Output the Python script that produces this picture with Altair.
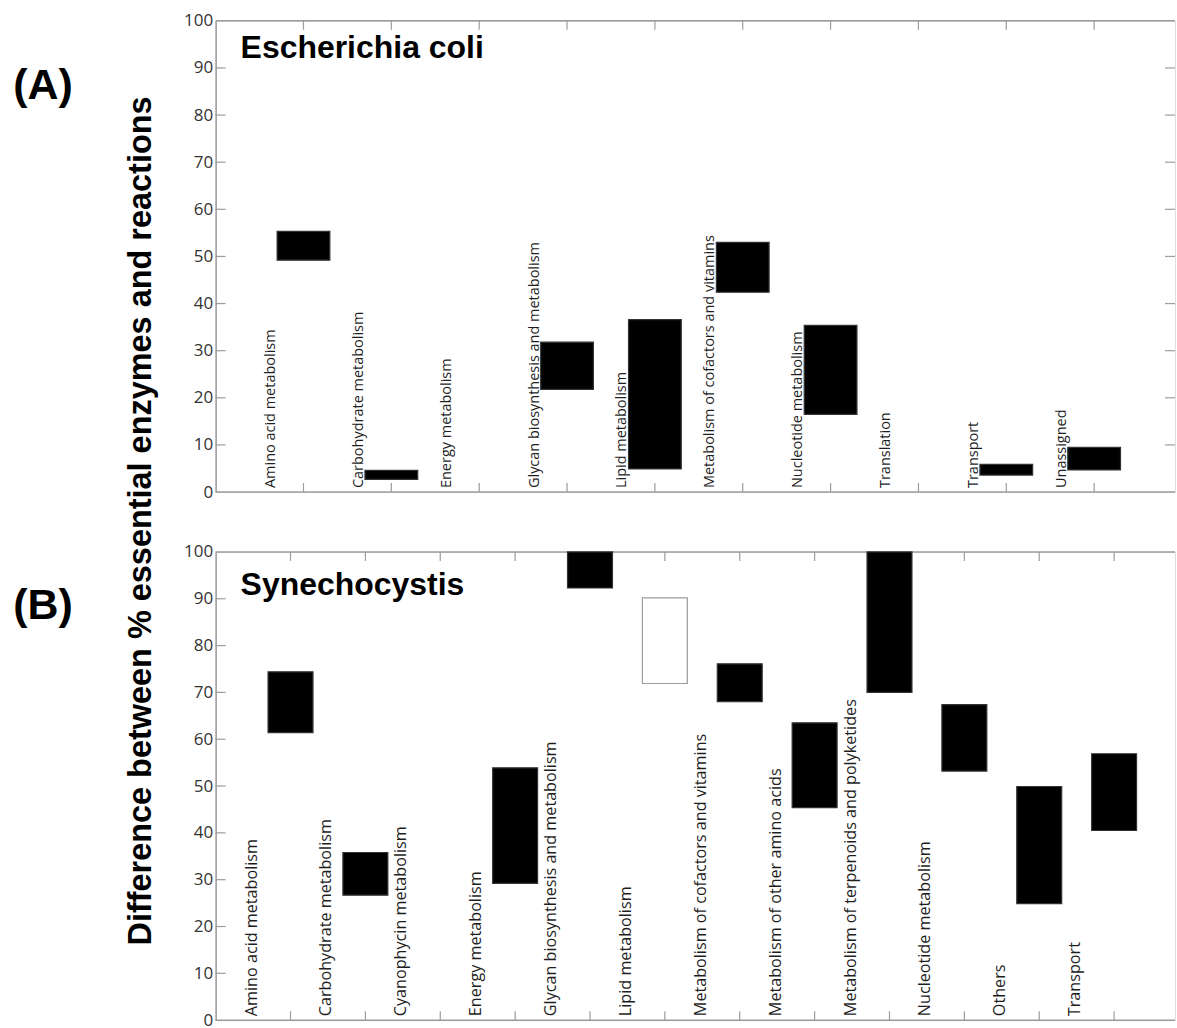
import altair as alt
import pandas as pd

# ---------------- data ----------------
ecoli_categories = [
    "Amino acid metabolism", "Carbohydrate metabolism", "Energy metabolism",
    "Glycan biosynthesis and metabolism", "Lipid metabolism",
    "Metabolism of cofactors and vitamins", "Nucleotide metabolism",
    "Translation", "Transport", "Unassigned",
]
ecoli_low = [49.2, 2.7, None, 21.8, 4.9, 42.4, 16.5, None, 3.6, 4.7]
ecoli_high = [55.3, 4.6, None, 31.8, 36.6, 53.0, 35.4, None, 5.9, 9.5]
ecoli_open = [False] * 10

syn_categories = [
    "Amino acid metabolism", "Carbohydrate metabolism", "Cyanophycin metabolism",
    "Energy metabolism", "Glycan biosynthesis and metabolism", "Lipid metabolism",
    "Metabolism of cofactors and vitamins", "Metabolism of other amino acids",
    "Metabolism of terpenoids and polyketides", "Nucleotide metabolism",
    "Others", "Transport",
]
syn_low = [61.4, 26.7, None, 29.2, 92.3, 71.9, 68.0, 45.4, 70.0, 53.2, 24.9, 40.5]
syn_high = [74.4, 35.8, None, 53.9, 100.0, 90.2, 76.1, 63.5, 100.0, 67.4, 49.9, 56.9]
syn_open = [False, False, False, False, False, True, False, False, False, False, False, False]

y_ticks = [0, 10, 20, 30, 40, 50, 60, 70, 80, 90, 100]
y_title = "Difference between % essential enzymes and reactions"

GRAY = "#9c9c9c"
W = 961


def panel(cats, low, high, is_open, height, xmax, label_shift, label_size,
          title, title_y, letter, letter_y, with_ytitle, right_ticks):
    df = pd.DataFrame({
        "cat": cats, "low": low, "high": high,
        "pos": list(range(1, len(cats) + 1)),
        "fill": ["white" if o else "black" for o in is_open],
        "edge": [GRAY if o else "#333333" for o in is_open],
    })
    xs = alt.Scale(domain=[0, xmax], nice=False, zero=False)
    ys = alt.Scale(domain=[0, 100], nice=False, zero=False)
    yaxis = alt.Axis(values=y_ticks, title=None, ticks=False, grid=False,
                     domain=True, domainColor=GRAY, domainWidth=1.5,
                     labelFont="Open Sans", labelFontSize=17, labelColor="#333333",
                     labelPadding=3)
    tick_df = pd.DataFrame({"v": y_ticks[1:-1]})
    xt_df = pd.DataFrame({"p": list(range(1, len(cats) + 1))})
    one = pd.DataFrame({"t": [title]})

    layers = []
    # left y ticks (inward) carrying the axis
    layers.append(alt.Chart(tick_df).mark_rule(color=GRAY, strokeWidth=1.2).encode(
        x=alt.value(0), x2=alt.value(10),
        y=alt.Y("v:Q", scale=ys, axis=yaxis)))
    if right_ticks:
        layers.append(alt.Chart(tick_df).mark_rule(color=GRAY, strokeWidth=1.2).encode(
            x=alt.value(W), x2=alt.value(W - 10),
            y=alt.Y("v:Q", scale=ys, axis=yaxis)))
    # top / bottom frame
    layers.append(alt.Chart(one).mark_rule(color=GRAY, strokeWidth=1.5).encode(
        x=alt.value(0), x2=alt.value(W), y=alt.value(0)))
    layers.append(alt.Chart(one).mark_rule(color=GRAY, strokeWidth=1.5).encode(
        x=alt.value(0), x2=alt.value(W), y=alt.value(height)))
    # x ticks top & bottom (inward)
    layers.append(alt.Chart(xt_df).mark_rule(color=GRAY, strokeWidth=1.2).encode(
        x=alt.X("p:Q", scale=xs, axis=None), y=alt.value(0), y2=alt.value(9)))
    layers.append(alt.Chart(xt_df).mark_rule(color=GRAY, strokeWidth=1.2).encode(
        x=alt.X("p:Q", scale=xs, axis=None), y=alt.value(height), y2=alt.value(height - 9)))
    # floating bars
    layers.append(alt.Chart(df).transform_filter("isValid(datum.low)").transform_calculate(
        x0="datum.pos - 0.3", x1="datum.pos + 0.3"
    ).mark_rect(strokeWidth=1.2).encode(
        x=alt.X("x0:Q", scale=xs, axis=None), x2="x1:Q",
        y=alt.Y("low:Q", scale=ys, axis=yaxis), y2="high:Q",
        fill=alt.Fill("fill:N", scale=None), stroke=alt.Stroke("edge:N", scale=None)))
    # vertical category labels
    layers.append(alt.Chart(df).transform_calculate(lx=f"datum.pos - {label_shift}").mark_text(
        angle=270, align="left", baseline="middle", font="Open Sans",
        fontSize=label_size, color="#1e1e1e").encode(
        x=alt.X("lx:Q", scale=xs, axis=None), y=alt.value(height - 4), text="cat:N"))
    # panel title
    layers.append(alt.Chart(one).mark_text(
        align="left", baseline="alphabetic", font="Liberation Sans", fontWeight="bold",
        fontSize=32, color="black").encode(
        x=alt.value(25), y=alt.value(title_y), text="t:N"))
    # panel letter
    layers.append(alt.Chart(pd.DataFrame({"t": [letter]})).mark_text(
        align="center", baseline="middle", font="Liberation Sans", fontWeight="bold",
        fontSize=43, color="black").encode(
        x=alt.value(-173), y=alt.value(letter_y), text="t:N"))
    if with_ytitle:
        layers.append(alt.Chart(pd.DataFrame({"t": [y_title]})).mark_text(
            angle=270, align="center", baseline="middle", font="Liberation Sans",
            fontWeight="bold", fontSize=32.5, color="black").encode(
            x=alt.value(-75), y=alt.value(501), text="t:N"))
    return alt.layer(*layers).properties(width=W, height=height)


top = panel(ecoli_categories, ecoli_low, ecoli_high, ecoli_open, 472, W / 88.0,
            0.37, 14.5, "Escherichia coli", 37, "(A)", 65, True, True)
bottom = panel(syn_categories, syn_low, syn_high, syn_open, 469, W / 75.0,
               0.52, 16.2, "Synechocystis", 43, "(B)", 54, False, False)

chart = alt.vconcat(top, bottom, spacing=60, bounds="flush").properties(
    padding={"left": 12, "top": 10, "right": 0, "bottom": 0}
).configure_view(stroke=None).configure(background="white")

chart.save("out.html", embed_options={"renderer": "svg", "actions": False})
